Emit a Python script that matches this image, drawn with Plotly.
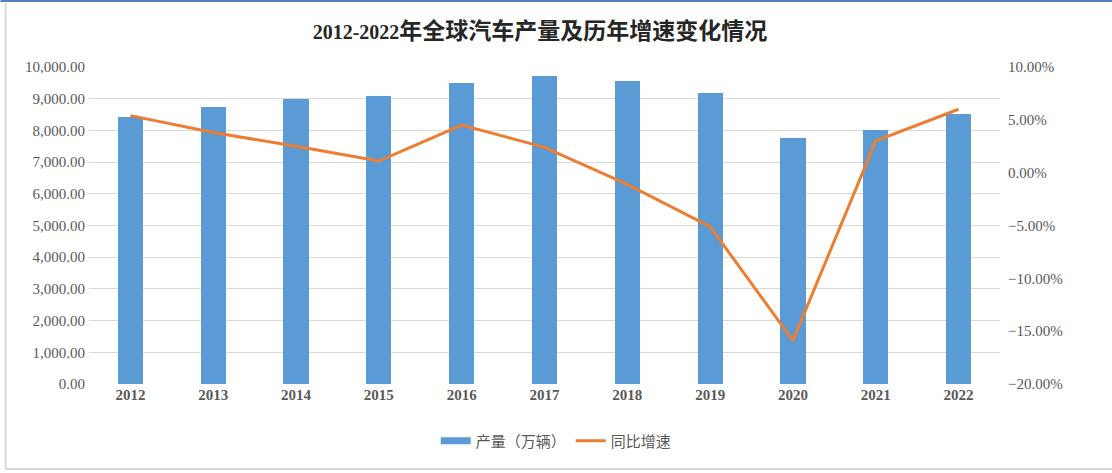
import plotly.graph_objects as go

years = ["2012", "2013", "2014", "2015", "2016", "2017", "2018", "2019", "2020", "2021", "2022"]
production = [8414, 8730, 8975, 9078, 9498, 9730, 9563, 9179, 7762, 8015, 8502]
growth = [0.054, 0.038, 0.025, 0.011, 0.045, 0.024, -0.011, -0.051, -0.159, 0.030, 0.060]

W, H = 1112, 473
L, R, T, B = 88.5, 112, 67, 89
pw, ph = W - L - R, H - T - B

def px(x):
    return (x - L) / pw

def py(y):
    return (H - B - y) / ph

serif = "Liberation Serif, Noto Sans CJK SC, serif"
gray = "#595959"

fig = go.Figure()
fig.add_trace(go.Bar(
    x=years, y=production, name="产量（万辆）",
    marker=dict(color="#5B9BD5", line=dict(width=0)),
    width=0.305, yaxis="y", showlegend=False,
))
fig.add_trace(go.Scatter(
    x=[None], y=[None], name="产量（万辆）", mode="lines",
    line=dict(color="#5B9BD5", width=7), yaxis="y", showlegend=True,
))
fig.add_trace(go.Scatter(
    x=years, y=growth, name="同比增速", mode="lines",
    line=dict(color="#ED7D31", width=3), yaxis="y2",
))

fig.update_layout(
    width=W, height=H,
    margin=dict(l=L, r=R, t=T, b=B, pad=0),
    paper_bgcolor="white", plot_bgcolor="white",
    title=dict(
        text="<b><span style='font-size:20px'>2012-2022</span>年全球汽车产量及历年增速变化情况</b>",
        xref="container", x=540 / W, xanchor="center",
        yref="container", y=1 - 31 / H, yanchor="middle",
        font=dict(family=serif, size=23, color="#262626"),
    ),
    font=dict(family=serif, size=15, color=gray),
    showlegend=True,
    legend=dict(
        orientation="h", x=px(556), xanchor="center", y=py(441), yanchor="middle",
        font=dict(family=serif, size=15, color=gray),
        bgcolor="rgba(0,0,0,0)", itemwidth=30,
    ),
    bargap=0,
    xaxis=dict(
        type="category", showgrid=False, showline=False, ticks="",
        tickfont=dict(family=serif, size=15, color=gray, weight="bold"),
        range=[-0.5, 10.5],
    ),
    yaxis=dict(
        range=[0, 10000], dtick=1000, tickformat=",.2f",
        showgrid=True, gridcolor="#D9D9D9", gridwidth=1,
        zeroline=False, showline=False, ticks="",
        tickfont=dict(family=serif, size=15, color=gray),
        ticklabelstandoff=3,
    ),
    yaxis2=dict(
        overlaying="y", side="right",
        range=[-0.2, 0.1], dtick=0.05, tickformat=".2%",
        showgrid=False, zeroline=False, showline=False, ticks="",
        tickfont=dict(family=serif, size=15, color=gray),
        ticklabelstandoff=7,
    ),
    shapes=[
        dict(type="line", xref="paper", yref="paper", x0=px(0), x1=px(W), y0=py(1), y1=py(1),
             line=dict(color="#4F81BD", width=2)),
        dict(type="line", xref="paper", yref="paper", x0=px(5), x1=px(5), y0=py(3), y1=py(469),
             line=dict(color="#D9D9D9", width=2)),
        dict(type="line", xref="paper", yref="paper", x0=px(5), x1=px(W), y0=py(469), y1=py(469),
             line=dict(color="#D9D9D9", width=2)),
    ],
)

fig.write_html(
    "out.html",
    config={"displayModeBar": False},
    post_script="document.body.style.margin='0';document.body.style.overflow='hidden';",
)
